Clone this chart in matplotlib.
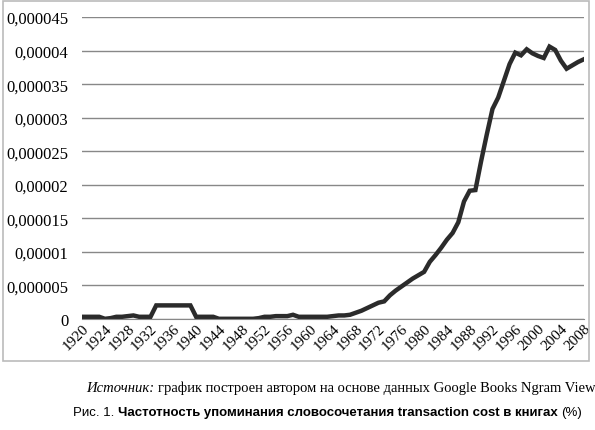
import numpy as np
import matplotlib.pyplot as plt

years = np.arange(1920, 2009)
# values in units of 1e-6 %
early = [0.3, 0.3, 0.3, 0.3, 0.0, 0.1, 0.3, 0.3, 0.4, 0.5, 0.3, 0.3, 0.3,
         2.0, 2.0, 2.0, 2.0, 2.0, 2.0, 2.0,
         0.3, 0.3, 0.3, 0.3, 0.0, 0.0, 0.0, 0.0, 0.0, 0.0, 0.0, 0.1,
         0.3, 0.3, 0.4, 0.4, 0.4, 0.6, 0.3, 0.3, 0.3, 0.3, 0.3, 0.3,
         0.4, 0.5, 0.5, 0.6, 0.9, 1.2, 1.6, 2.0]
late = [2.4, 2.6, 3.5, 4.2, 4.8, 5.4, 6.0, 6.5, 7.0, 8.5, 9.5, 10.6, 11.8,
        12.8, 14.4, 17.5, 19.1, 19.2, 23.5, 27.5, 31.3, 33.0, 35.5, 38.0,
        39.7, 39.3, 40.2, 39.6, 39.2, 38.9, 40.6, 40.1, 38.5, 37.3, 37.8,
        38.3, 38.7]
values = np.array(early + late) * 1e-6

yticks = np.arange(0, 0.0000451, 0.000005)
ytick_labels = ['0', '0,000005', '0,00001', '0,000015', '0,00002', '0,000025',
                '0,00003', '0,000035', '0,00004', '0,000045']

fig = plt.figure(figsize=(5.95, 4.31), dpi=100)
ax = fig.add_axes([0.138, 0.258, 0.843, 0.70])

ax.plot(years, values, color='#2b2b2b', lw=3.2, solid_joinstyle='miter')
ax.set_xlim(1920, 2008)
ax.set_ylim(0, 0.000045)
ax.set_yticks(yticks)
ax.set_yticklabels(ytick_labels, family='Liberation Serif', fontsize=12)
ax.set_xticks(years[::4])
ax.set_xticklabels([str(y) for y in years[::4]], rotation=45, ha='right',
                   rotation_mode='anchor', family='Liberation Serif', fontsize=11)
ax.tick_params(axis='y', length=0, pad=10)
ax.tick_params(axis='x', length=0, pad=2)
ax.grid(axis='y', color='#888888', lw=1)
for s in ['top', 'right', 'left']:
    ax.spines[s].set_visible(False)
ax.spines['bottom'].set_color('#888888')

# frame around chart
fig.patches.append(plt.Rectangle((0.005, 0.16), 0.985, 0.835, transform=fig.transFigure,
                                 fill=False, ec='#bbbbbb', lw=1.2))


def line_of_parts(parts, y, cx):
    # parts: list of (text, kwargs); laid out left to right, centred on cx
    texts = [fig.text(0, y, s, **kw) for s, kw in parts]
    fig.canvas.draw()
    widths = [t.get_window_extent().width / fig.bbox.width for t in texts]
    x = cx - sum(widths) / 2
    for t, w in zip(texts, widths):
        t.set_x(x)
        x += w


serif = dict(family='Liberation Serif', fontsize=10.5)
line_of_parts([('Источник: ', dict(serif, style='italic')),
               ('график построен автором на основе данных Google Books Ngram Viewer.', serif)],
              0.09, 0.585)

sans = dict(family='Liberation Sans', fontsize=9.5)
line_of_parts([('Рис. 1. ', sans),
               ('Частотность упоминания словосочетания transaction cost в книгах ', dict(sans, weight='bold')),
               ('(%)', sans)],
              0.035, 0.55)

fig.savefig('out.png', dpi=100)
